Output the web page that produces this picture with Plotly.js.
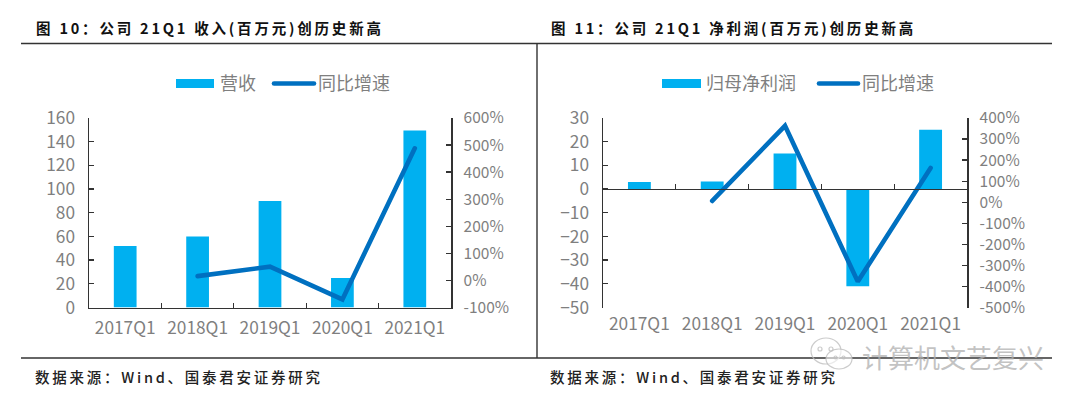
<!DOCTYPE html>
<html><head><meta charset="utf-8">
<script src="https://cdn.plot.ly/plotly-3.0.1.min.js"></script>
<style>
html,body{margin:0;padding:0;background:#fff}
.scatterlayer .js-line{stroke-linecap:round}
.layer-above path[style*="rgb(0, 112, 192)"]{stroke-linecap:round}
text[data-unformatted^="图"]{letter-spacing:2.8px}
text[data-unformatted^="数据"]{letter-spacing:2.75px}
</style></head><body><div id="chart" style="width:1080px;height:403px"></div>
<script>
const categories=['2017Q1','2018Q1','2019Q1','2020Q1','2021Q1'];
const revenue=[52,60,90,25,149.5];
const revenueYoY=[null,16,51,-70,488];
const netProfit=[3,3.2,15,-41,25];
const netProfitYoY=[null,6,363,-377,163];
const revTicks=[0,20,40,60,80,100,120,140,160];
const revPctTicks=[-100,0,100,200,300,400,500,600];
const npTicks=[-50,-40,-30,-20,-10,0,10,20,30];
const npPctTicks=[-500,-400,-300,-200,-100,0,100,200,300,400];
const pctLabels=a=>a.map(v=>v+'%');

const W=1080,H=403,px=x=>x/W,py=y=>1-y/H;
const BLUE='#00B0F0',DARK='#0070C0',GREY='#7f7f7f',AX='#333333';
const font={family:'"Noto Sans CJK SC","Noto Sans",sans-serif',size:17.3,color:GREY};
const pctFont={...font,size:15.5};
const xbase={type:'category',categoryorder:'array',categoryarray:categories,range:[-0.5,4.5],fixedrange:true,showgrid:false,zeroline:false,tickfont:font};
const ybase={showgrid:false,zeroline:false,tickfont:font,ticks:'inside',ticklen:5,tickwidth:1.3,tickcolor:AX,showline:true,linecolor:AX,linewidth:1.5,ticklabelstandoff:9};
const ypct={...ybase,tickfont:pctFont,ticklabelstandoff:8};
const bar=(x,y,xa,ya)=>({type:'bar',x,y,xaxis:xa,yaxis:ya,marker:{color:BLUE},showlegend:false,hoverinfo:'skip'});
const line=(x,y,xa,ya)=>({type:'scatter',mode:'lines',x,y,xaxis:xa,yaxis:ya,line:{color:DARK,width:4.6},showlegend:false,hoverinfo:'skip'});

const traces=[
 bar(categories,revenue,'x','y'),
 line(categories,revenueYoY,'x','y2'),
 bar(categories,netProfit,'x2','y3'),
 line(categories,netProfitYoY,'x2','y4'),
 {type:'scatter',mode:'lines',x:categories,y:categories.map(()=>null),xaxis:'x3',yaxis:'y3',showlegend:false,hoverinfo:'skip'}
];

const rule=(x0,y0,x1,y1,c='#333',w=1.4)=>({type:'line',xref:'paper',yref:'paper',x0:px(x0),y0:py(y0),x1:px(x1),y1:py(y1),line:{color:c,width:w}});
const swatch=(x0,x1,y0,y1)=>({type:'rect',xref:'paper',yref:'paper',x0:px(x0),x1:px(x1),y0:py(y0),y1:py(y1),fillcolor:BLUE,line:{width:0}});
const ring=(x0,x1,y0,y1,fill)=>({type:'circle',xref:'paper',yref:'paper',x0:px(x0),x1:px(x1),y0:py(y0),y1:py(y1),fillcolor:fill||'rgba(0,0,0,0)',line:{color:'rgba(190,190,190,0.8)',width:1.2}});
const label=(text,x,y,f,anchor='left')=>({text,x:px(x),y:py(y),xref:'paper',yref:'paper',xanchor:anchor,yanchor:'middle',showarrow:false,font:f,borderpad:0});

const head={family:'"Noto Sans CJK SC",sans-serif',size:14.5,color:'#111',weight:700};
const src={family:'"Noto Sans CJK SC",sans-serif',size:14.5,color:'#222',weight:500};
const lg={family:font.family,size:18,color:GREY};

const layout={
 width:W,height:H,margin:{l:0,r:0,t:0,b:0},paper_bgcolor:'#fff',plot_bgcolor:'rgba(0,0,0,0)',
 barmode:'overlay',bargap:0.686,showlegend:false,
 xaxis:{...xbase,domain:[px(89),px(451)],anchor:'y',showline:true,linecolor:AX,linewidth:1.5,ticks:'inside',tickson:'boundaries',ticklen:5,tickwidth:1.3,tickcolor:AX,ticklabelstandoff:4},
 yaxis:{...ybase,domain:[py(307.5),py(118)],range:[0,160],tickvals:revTicks,anchor:'x'},
 yaxis2:{...ypct,domain:[py(307.5),py(118)],range:[-100,600],tickvals:revPctTicks,ticktext:pctLabels(revPctTicks),side:'right',overlaying:'y',anchor:'x'},
 xaxis2:{...xbase,domain:[px(603),px(967)],anchor:'y3',showline:false,ticks:'',ticklabelstandoff:4},
 yaxis3:{...ybase,domain:[py(307.5),py(118)],range:[-50,30],tickvals:npTicks,anchor:'x2'},
 yaxis4:{...ypct,domain:[py(307.5),py(118)],range:[-500,400],tickvals:npPctTicks,ticktext:pctLabels(npPctTicks),side:'right',overlaying:'y3',anchor:'x2'},
 xaxis3:{...xbase,domain:[px(603),px(967)],anchor:'free',position:py(188.9),overlaying:'x2',showline:true,linecolor:AX,linewidth:1.5,ticks:'inside',tickson:'boundaries',ticklen:5,tickwidth:1.3,tickcolor:AX,showticklabels:false},
 shapes:[
  rule(21,43.5,1052,43.5),rule(21,358,1052,358),rule(537,43.5,537,358),
  swatch(176,214,79,88),rule(274,83.5,314,83.5,DARK,4.6),
  swatch(662,701,79,88),rule(819,83.5,858,83.5,DARK,4.6),
  ring(811,841,338,364),ring(826,852,349,369,'rgba(255,255,255,0.6)'),
  ring(818,822,347,351),ring(829,833,347,351),ring(834,837,356,359),ring(842,845,356,359)
 ],
 annotations:[
  label('图 10：公司 21Q1 收入(百万元)创历史新高',35,28,head),
  label('图 11：公司 21Q1 净利润(百万元)创历史新高',550,28,head),
  label('数据来源：Wind、国泰君安证券研究',34,376,src),
  label('数据来源：Wind、国泰君安证券研究',549,376,src),
  label('营收',218.5,82,lg),label('同比增速',317,82,lg),
  label('归母净利润',705,82,lg),label('同比增速',861,82,lg),
  label('计算机文艺复兴',861,356,{family:font.family,size:26,color:'rgba(175,175,175,0.75)'})
 ]
};
Plotly.newPlot('chart',traces,layout,{staticPlot:true,displayModeBar:false});
</script></body></html>
